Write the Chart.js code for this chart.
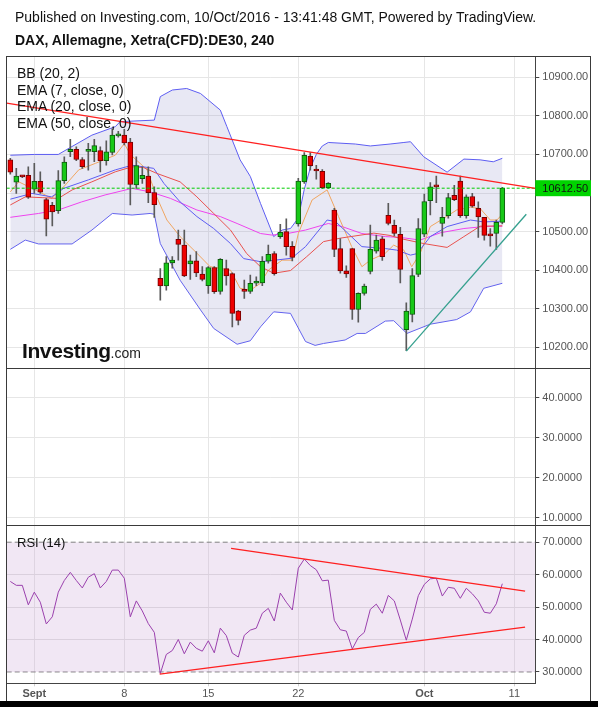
<!DOCTYPE html>
<html>
<head>
<meta charset="utf-8">
<script src="https://cdn.jsdelivr.net/npm/chart.js@4.4.0/dist/chart.umd.min.js"></script>
<style>
  body { margin: 0; background: #fff; font-family: "Liberation Sans", Arial, sans-serif; }
  #wrap { position: relative; width: 598px; height: 707px; overflow: hidden; }
  canvas { position: absolute; left: 0; top: 0; }
  .t { position: absolute; white-space: nowrap; color: #111; font-size: 14px; line-height: 16px; }
  #band { position: absolute; left: 0; top: 701px; width: 598px; height: 6px; background: #000; }
</style>
</head>
<body>
<div id="wrap">
  <canvas id="chart" width="598" height="707"></canvas>
  <div class="t" style="left:15px;top:9px">Published on Investing.com, 10/Oct/2016 - 13:41:48 GMT, Powered by TradingView.</div>
  <div class="t" style="left:15px;top:32px;font-weight:bold">DAX, Allemagne, Xetra(CFD):DE30, 240</div>
  <div class="t" style="left:17px;top:65px">BB (20, 2)</div>
  <div class="t" style="left:17px;top:82px">EMA (7, close, 0)</div>
  <div class="t" style="left:17px;top:98px">EMA (20, close, 0)</div>
  <div class="t" style="left:17px;top:115px">EMA (50, close, 0)</div>
  <div class="t" style="left:17px;top:535px;font-size:13px;line-height:15px">RSI (14)</div>
  <div class="t" style="left:22px;top:340px;line-height:21px"><span style="font-size:21px;font-weight:bold;letter-spacing:-0.4px;color:#111">Investing</span><span style="font-size:14px;color:#222">.com</span></div>
  <div id="band"></div>
</div>
<script>
// x axis (bar index) and date ticks
const xMin = -0.6, xMax = 87.5;
const dateTickIdx = [4, 19, 33, 48, 69, 84];
const dateTickText = ["Sept", "8", "15", "22", "Oct", "11"];
const dateTickBold = [true, false, false, false, true, false];

// 4h candles
const open = [10686,10628,10643,10646,10610,10630,10583,10568,10554,10632,
  10707,10713,10687,10708,10707,10710,10684,10705,10748,10750,
  10732,10621,10637,10644,10601,10379,10359,10419,10480,10465,
  10416,10424,10390,10360,10407,10345,10404,10391,10294,10346,
  10345,10366,10367,10423,10443,10487,10500,10462,10520,10629,
  10696,10658,10656,10614,10556,10456,10398,10456,10298,10340,
  10397,10449,10481,10542,10516,10493,10246,10285,10389,10493,
  10580,10617,10521,10541,10594,10631,10541,10591,10560,10537,
  10490,10495,10524];
const high = [10690,10664,10646,10668,10677,10655,10586,10576,10658,10694,
  10739,10720,10692,10729,10739,10720,10735,10767,10760,10765,
  10742,10694,10668,10668,10616,10404,10435,10435,10504,10504,
  10439,10448,10409,10409,10409,10430,10426,10393,10296,10374,
  10387,10383,10435,10465,10448,10519,10533,10474,10638,10705,
  10705,10672,10661,10627,10560,10482,10411,10456,10341,10364,
  10517,10491,10487,10573,10530,10511,10315,10404,10534,10597,
  10627,10644,10563,10599,10620,10644,10595,10599,10577,10537,
  10508,10530,10615];
const low = [10649,10599,10640,10586,10599,10599,10489,10515,10547,10625,
  10694,10684,10664,10659,10681,10655,10672,10699,10745,10725,
  10569,10612,10625,10575,10537,10322,10348,10405,10426,10383,
  10376,10383,10372,10340,10340,10338,10361,10253,10258,10327,
  10340,10360,10360,10418,10387,10482,10439,10424,10514,10625,
  10659,10636,10611,10612,10435,10392,10381,10272,10265,10335,
  10390,10444,10425,10517,10489,10367,10191,10266,10383,10487,
  10543,10575,10488,10535,10580,10537,10535,10563,10485,10478,
  10462,10454,10520];
const close = [10654,10644,10642,10589,10630,10602,10532,10551,10632,10680,
  10713,10687,10668,10710,10723,10684,10707,10750,10750,10730,
  10622,10671,10646,10601,10570,10359,10419,10426,10467,10385,
  10424,10393,10376,10407,10344,10428,10385,10288,10270,10345,
  10366,10372,10423,10441,10391,10498,10461,10433,10631,10698,
  10671,10657,10614,10625,10454,10398,10390,10298,10340,10359,
  10454,10478,10435,10521,10495,10402,10294,10386,10508,10578,
  10616,10616,10537,10588,10583,10541,10590,10566,10538,10490,
  10489,10524,10612.5];
const lastPrice = 10612.5;

// overlays (bar index, value)
const bbUpperIdx = [0,4,8,10,13.6,17.5,18.3,24,25,27,29.4,31.7,35,36.1,38.3,40,41.7,43.9,45.3,46.7,48,49,50,51,52,53,57.5,60,63.3,65.6,66.7,68.9,72.8,75.6,78.3,80.5,82];
const bbUpperVal = [10698,10700,10700,10718,10750,10772,10785,10789,10850,10867,10871,10858,10815,10772,10686,10643,10573,10487,10504,10508,10535,10610,10665,10700,10722,10731,10727,10722,10727,10731,10733,10694,10654,10688,10686,10681,10690];
const bbLowerIdx = [0,2.5,4.7,10.3,13.6,17,20.3,23.3,24,25,28.3,31.7,33.9,37.8,40,41.7,43.9,46.7,49.2,50.8,52.2,55.8,57.8,59.2,62.5,63.9,66.1,70,74.4,76.7,78.9,82];
const bbLowerVal = [10454,10478,10468,10468,10504,10547,10543,10547,10545,10469,10374,10297,10249,10208,10217,10253,10292,10288,10215,10205,10210,10219,10236,10236,10268,10269,10236,10260,10272,10292,10353,10366];
const bbBasisIdx = [0,2.5,5.3,8,10.3,13.6,17.5,20.3,22.2,24.4,28.3,31.1,33.9,36.7,39.4,41.7,43.9,46.7,49.4,52.2,55,60.6,63.3,65,68.9,72.8,75.6,78.3,82];
const bbBasisVal = [10569,10590,10588,10586,10608,10629,10655,10668,10666,10651,10629,10590,10547,10504,10443,10409,10392,10399,10435,10474,10483,10496,10490,10482,10469,10459,10487,10514,10515];
const ema20Idx = [0,3.6,6.9,8.9,13,17.5,20.3,23.9,25.6,28.3,31.1,33.9,36.7,38.9,41.7,44.2,46.9,49.2,52.8,54.2,58.6,62.5,64.4,66.7,67.8,70,72.8,76.7,78.9,82];
const ema20Val = [10584,10599,10590,10612,10634,10660,10672,10664,10625,10577,10539,10508,10469,10430,10422,10426,10431,10461,10530,10526,10461,10456,10452,10439,10443,10487,10513,10530,10525,10527];
const ema7Idx = [0,1.4,4.2,6.9,8.9,11.4,14.2,17.5,19,20,22.8,24.4,26.1,28.3,31.1,33.3,36.7,38.3,40,41.7,43,45.3,47,48,50.3,52.8,54.7,56.9,58.6,60,62.5,63.9,65.6,66.9,68.3,70,72.2,74.4,76.7,78.3,80,81.1,82];
const ema7Val = [10603,10629,10608,10586,10616,10660,10677,10698,10728,10700,10660,10590,10530,10487,10444,10409,10400,10353,10348,10366,10400,10426,10426,10495,10582,10608,10539,10461,10409,10426,10444,10465,10452,10409,10443,10513,10534,10556,10563,10560,10530,10530,10545];
const ema50Idx = [0,4.7,8,11.9,15.8,20.3,23.3,26.7,31.1,35,37.8,41.7,43.6,46.2,49.2,53,55.3,58.6,62.5,65,68.3,71.7,75.6,78.9,82];
const ema50Val = [10537,10547,10556,10577,10595,10612,10603,10586,10556,10539,10521,10495,10491,10495,10504,10521,10513,10495,10487,10485,10478,10497,10508,10513,10514];

// drawn trend lines
const downTrendIdx = [-0.6, 87.5], downTrendVal = [10833, 10612];
const upTrendIdx = [66, 86], upTrendVal = [10190, 10545];

// RSI (14)
const rsi = [57.9,56.7,56.7,50.7,54.6,51.5,44.8,47.0,54.6,58.2,
  60.7,58.2,55.9,59.2,60.3,55.9,57.9,61.4,61.4,58.9,
  47.0,51.9,48.8,44.9,42.2,29.5,35.4,36.6,40.0,35.6,
  39.2,37.3,36.4,39.6,35.9,43.5,41.2,35.8,34.6,41.3,
  42.9,43.5,48.1,49.6,45.7,54.3,51.5,49.1,62.0,64.8,
  62.8,61.5,58.1,58.3,45.9,43.0,42.6,37.1,40.6,42.2,
  49.3,50.9,48.1,53.6,51.9,46.0,39.8,46.3,53.5,57.0,
  58.7,58.9,53.4,56.1,55.8,52.7,55.8,54.1,51.9,48.4,
  48.1,51.0,57.2];
const rsiBands = [70, 30];
const rsiDownIdx = [36.8, 85.8], rsiDownVal = [68.1, 54.9];
const rsiUpIdx = [24.9, 85.8], rsiUpVal = [29.3, 43.8];

// axis ticks
const priceTicks = [10200, 10300, 10400, 10500, 10600, 10700, 10800, 10900];
const midTicks = [10, 20, 30, 40];
const rsiTicks = [30, 40, 50, 60, 70];

Chart.defaults.font.family = '"Liberation Sans", Arial, sans-serif';

const pts = (xs, ys) => xs.map((x, i) => ({ x: x, y: ys[i] }));
const lineDs = (xs, ys, color, axis, extra) => Object.assign({
  type: "line", data: pts(xs, ys), yAxisID: axis, borderColor: color,
  borderWidth: 1, pointRadius: 0, fill: false, tension: 0, order: 6
}, extra || {});

const up = close.map((c, i) => c >= open[i]);

const framePlugin = {
  id: "frame",
  afterDraw(chart) {
    const ctx = chart.ctx, a = chart.chartArea, sy = chart.scales.y;
    const right = a.right + sy.width;
    ctx.save();
    ctx.strokeStyle = "#3a3a3a";
    ctx.lineWidth = 1;
    [sy.bottom, chart.scales.y2.bottom].forEach(yy => {
      ctx.beginPath();
      ctx.moveTo(a.left, Math.round(yy) + 0.5);
      ctx.lineTo(right, Math.round(yy) + 0.5);
      ctx.stroke();
    });
    ctx.strokeRect(Math.round(a.left) - 0.5, Math.round(a.top) + 0.5, Math.round(right - a.left), 701 - Math.round(a.top));
    // last price tag
    const py = sy.getPixelForValue(lastPrice);
    ctx.fillStyle = "#00d400";
    ctx.fillRect(a.right, py - 8, sy.width, 16);
    ctx.fillStyle = "#111";
    ctx.font = '11px "Liberation Sans", Arial, sans-serif';
    ctx.textBaseline = "middle";
    ctx.fillText(lastPrice.toFixed(2), a.right + 7, py + 0.5);
    ctx.restore();
  }
};

const yAxis = (weight, min, max, tickVals, digits, gridColor) => ({
  type: "linear", position: "right", stack: "panels", stackWeight: weight,
  min: min, max: max,
  afterBuildTicks: s => { s.ticks = tickVals.map(v => ({ value: v })); },
  afterFit: s => { s.width = 55.7; },
  ticks: { callback: v => Number(v).toFixed(digits), color: "#555", font: { size: 11 }, padding: 3 },
  grid: { color: gridColor || "#e6e6e6", tickColor: "#444", tickLength: 4 },
  border: { color: "#444" }
});

new Chart(document.getElementById("chart"), {
  type: "bar",
  data: {
    datasets: [
      lineDs(bbUpperIdx, bbUpperVal, "#5d5df2", "y", { fill: "+1", backgroundColor: "rgba(150,150,205,0.22)", order: 9 }),
      lineDs(bbLowerIdx, bbLowerVal, "#5d5df2", "y", { order: 9 }),
      lineDs(bbBasisIdx, bbBasisVal, "#e8524f", "y"),
      lineDs(ema20Idx, ema20Val, "#5d5df2", "y"),
      lineDs(ema7Idx, ema7Val, "#f0a560", "y"),
      lineDs(ema50Idx, ema50Val, "#ee44ee", "y"),
      {
        type: "bar", yAxisID: "y", order: 4, grouped: false,
        data: low.map((l, i) => ({ x: i, y: [l, high[i]] })),
        backgroundColor: "#5a5a5a", barThickness: 1, borderWidth: 0
      },
      {
        type: "bar", yAxisID: "y", order: 3, grouped: false,
        data: open.map((o, i) => ({ x: i, y: [o, close[i]] })),
        backgroundColor: up.map(u => u ? "#18c818" : "#ee0000"),
        borderColor: up.map(u => u ? "#0f5a0f" : "#780000"),
        borderWidth: 1, borderSkipped: false, barThickness: 5, minBarLength: 2
      },
      lineDs([xMin, xMax], [lastPrice, lastPrice], "#00cc00", "y", { borderDash: [3, 2], order: 2 }),
      lineDs(downTrendIdx, downTrendVal, "#ff2020", "y", { borderWidth: 1.4, order: 1 }),
      lineDs(upTrendIdx, upTrendVal, "#35a08e", "y", { borderWidth: 1.3, order: 1 }),
      lineDs([xMin, xMax], [rsiBands[0], rsiBands[0]], "#808080", "y3", { borderDash: [5, 3], fill: "+1", backgroundColor: "rgba(200,160,210,0.25)", order: 9 }),
      lineDs([xMin, xMax], [rsiBands[1], rsiBands[1]], "#808080", "y3", { borderDash: [5, 3], order: 9 }),
      lineDs(rsi.map((v, i) => i), rsi, "#9a40ad", "y3", { order: 5 }),
      lineDs(rsiDownIdx, rsiDownVal, "#ff2020", "y3", { borderWidth: 1.3, order: 1 }),
      lineDs(rsiUpIdx, rsiUpVal, "#ff2020", "y3", { borderWidth: 1.3, order: 1 })
    ]
  },
  options: {
    responsive: false,
    animation: false,
    events: [],
    layout: { padding: { left: 6.7, top: 56, right: 7, bottom: 6 } },
    plugins: { legend: { display: false }, tooltip: { enabled: false } },
    scales: {
      x: {
        type: "linear", min: xMin, max: xMax, offset: false,
        afterBuildTicks: s => { s.ticks = dateTickIdx.map(v => ({ value: v })); },
        afterFit: s => { s.height = 17.7; },
        ticks: {
          autoSkip: false, maxRotation: 0, padding: 1, color: "#555",
          callback: (v, i) => dateTickText[i],
          font: c => ({ size: 11, weight: dateTickBold[c.index] ? "bold" : "normal" })
        },
        grid: { offset: false, color: "#e6e6e6", tickColor: "#cfcfcf", tickLength: 3 },
        border: { color: "#444" }
      },
      y: yAxis(312.3, 10145.6, 10955.2, priceTicks, 2),
      y2: yAxis(156.7, 8.2, 47.35, midTicks, 4),
      y3: Object.assign(yAxis(158.3, 26.5, 75.3, rsiTicks, 4), {
        grid: {
          color: c => (c.tick && (c.tick.value === 70 || c.tick.value === 30)) ? "rgba(0,0,0,0)" : "#e0e0e0",
          tickColor: "#444", tickLength: 4
        }
      })
    }
  },
  plugins: [framePlugin]
});
</script>
</body>
</html>
